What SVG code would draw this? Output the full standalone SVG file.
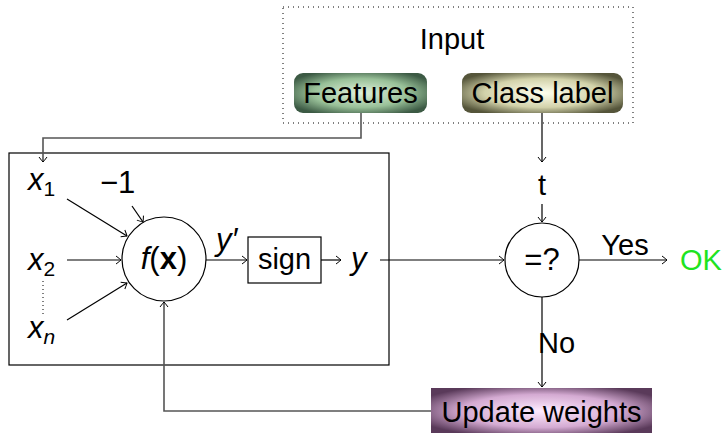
<svg xmlns="http://www.w3.org/2000/svg" width="725" height="433" viewBox="0 0 725 433">
<defs>
<style>
text{font-family:"Liberation Sans",Arial,sans-serif;font-size:29px;fill:#000}
.c{text-anchor:middle}
.i{font-style:italic}
.m{font-size:31px}
.sub{font-size:21px;font-style:normal}
.subi{font-size:21px;font-style:italic}
.ln{fill:none;stroke:#000;stroke-width:1.2}
.gl{fill:none;stroke:#555;stroke-width:1.6}
</style>
<marker id="ar" viewBox="-6 -5 8 10" markerWidth="8" markerHeight="10" refX="0" refY="0" orient="auto" markerUnits="userSpaceOnUse">
<path d="M-5,-4 Q-1,-1 0,0 Q-1,1 -5,4" fill="none" stroke="#000" stroke-width="1"/>
</marker>
<radialGradient id="gF" cx="0.5" cy="0.5" r="0.6">
<stop offset="0" stop-color="#e0f2dc"/>
<stop offset="0.6" stop-color="#98c098"/>
<stop offset="1" stop-color="#3c5a44"/>
</radialGradient>
<radialGradient id="gC" cx="0.5" cy="0.5" r="0.6">
<stop offset="0" stop-color="#ffffee"/>
<stop offset="0.6" stop-color="#d2d2aa"/>
<stop offset="1" stop-color="#55553a"/>
</radialGradient>
<radialGradient id="gU" cx="0.5" cy="0.5" r="0.6">
<stop offset="0" stop-color="#ffecff"/>
<stop offset="0.6" stop-color="#d4aad2"/>
<stop offset="1" stop-color="#5a3a5a"/>
</radialGradient>
</defs>
<rect width="725" height="433" fill="#fff"/>

<g id="input">
<rect x="283" y="7" width="350" height="116" fill="none" stroke="#000" stroke-width="1" stroke-dasharray="1 4"/>
<text x="452" y="49" class="c">Input</text>
</g>
<g id="features">
<rect x="294" y="73" width="133" height="40" rx="9" fill="url(#gF)"/>
<text x="360.5" y="103" class="c">Features</text>
</g>
<g id="classlabel">
<rect x="462" y="73" width="161" height="40" rx="9" fill="url(#gC)"/>
<text x="542.5" y="103" class="c">Class label</text>
</g>
<g id="perceptron">
<rect x="9" y="153" width="380" height="212" fill="none" stroke="#000" stroke-width="1.2"/>
</g>
<g id="x1"><text x="28" y="190" class="i m">x<tspan class="sub" dy="6">1</tspan></text></g>
<g id="minus1"><text x="100" y="193" class="m">−1</text></g>
<g id="x2"><text x="28" y="270" class="i m">x<tspan class="sub" dy="6">2</tspan></text></g>
<g id="dots"><line x1="43" y1="281" x2="43" y2="314" stroke="#000" stroke-width="1" stroke-dasharray="1 3"/></g>
<g id="xn"><text x="28" y="338" class="i m">x<tspan class="subi" dy="6">n</tspan></text></g>
<g id="fx">
<circle cx="164" cy="259" r="42" fill="#fff" stroke="#000" stroke-width="1.2"/>
<text x="164" y="269" class="c m"><tspan class="i">f</tspan>(<tspan font-weight="bold">x</tspan>)</text>
</g>
<g id="sign">
<rect x="248" y="237" width="73" height="46" fill="#fff" stroke="#000" stroke-width="1.2"/>
<text x="284.5" y="269" class="c">sign</text>
</g>
<g id="yprime"><text x="216" y="250" class="i m">y′</text></g>
<g id="y"><text x="351" y="269" class="i m">y</text></g>
<g id="t"><text x="542" y="195" class="c">t</text></g>
<g id="compare">
<circle cx="542" cy="260" r="37" fill="#fff" stroke="#000" stroke-width="1.2"/>
<text x="542" y="270" class="c m">=?</text>
</g>
<g id="ok"><text x="680" y="270" style="fill:#1fe31f">OK</text></g>
<g id="update">
<rect x="431" y="388" width="221" height="46" fill="url(#gU)"/>
<text x="541.5" y="422" class="c">Update weights</text>
</g>
<g id="labels">
<text x="625" y="255" class="c">Yes</text>
<text x="538" y="353">No</text>
</g>

<g id="connectors">
<polyline class="gl" points="361,113 361,138 43,138 43,162" marker-end="url(#ar)"/>
<line class="ln" x1="67" y1="199" x2="127" y2="236" marker-end="url(#ar)"/>
<line class="ln" x1="132" y1="206" x2="143" y2="222" marker-end="url(#ar)"/>
<line class="ln" x1="67" y1="260" x2="121" y2="260" marker-end="url(#ar)"/>
<line class="ln" x1="67" y1="320" x2="127" y2="283" marker-end="url(#ar)"/>
<line class="ln" x1="206" y1="260" x2="247" y2="260" marker-end="url(#ar)"/>
<line class="ln" x1="321" y1="260" x2="341" y2="260" marker-end="url(#ar)"/>
<line class="ln" x1="380" y1="260" x2="504" y2="260" marker-end="url(#ar)"/>
<line class="ln" x1="542" y1="113" x2="542" y2="162" marker-end="url(#ar)"/>
<line class="ln" x1="542" y1="204" x2="542" y2="222" marker-end="url(#ar)"/>
<line class="ln" x1="579" y1="260" x2="667" y2="260" marker-end="url(#ar)"/>
<line class="ln" x1="542" y1="297" x2="542" y2="387" marker-end="url(#ar)"/>
<polyline class="gl" points="431,411 164,411 164,302" marker-end="url(#ar)"/>
</g>
</svg>
